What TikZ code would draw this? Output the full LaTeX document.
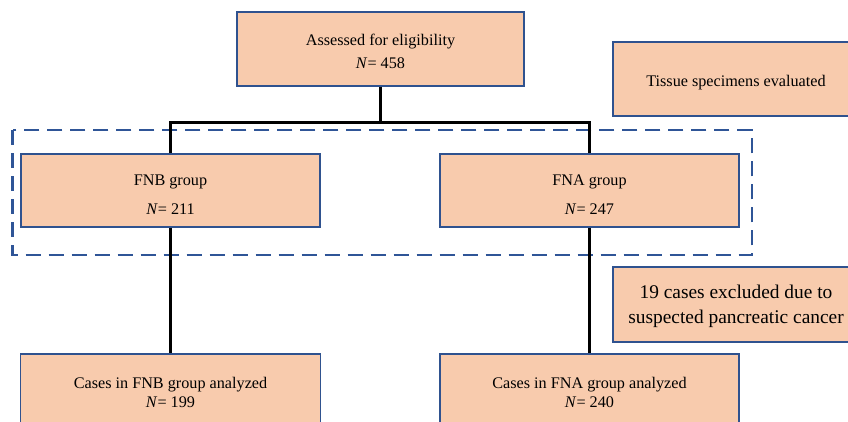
\documentclass[tikz,border=0pt]{standalone}
\usepackage{fontspec}
\setmainfont{Liberation Serif}
\definecolor{peach}{HTML}{F8CBAD}
\definecolor{boxblue}{HTML}{2F528F}
\definecolor{dashblue}{HTML}{2F5597}
\newcommand{\lowr}[2]{\raisebox{-#1}[\height][\depth]{#2}}
\begin{document}
\begin{tikzpicture}[x=1pt,y=-1pt,
  box/.style={draw=boxblue, fill=peach, line width=1.3pt, inner sep=0pt, align=center,
    font=\fontsize{16.2}{23}\selectfont},
  conn/.style={line width=3pt, black},
  dashbox/.style={draw=dashblue, line width=2.7pt, dash pattern=on 15pt off 8pt}]
\useasboundingbox (0,0) rectangle (848,421);
\clip (0,0) rectangle (848,421);
\fill[white] (0,0) rectangle (848,421);
% dashed group frame
\draw[dashbox] (12.7,130) rectangle (752,255);
% boxes
\node[box, minimum width=287pt, minimum height=74pt] (top) at (380.5,49) {\lowr{2pt}{Assessed for eligibility}\\\lowr{2pt}{\textit{N}= 458}};
\node[box, minimum width=246pt, minimum height=74pt] (tissue) at (736,79) {\lowr{3.5pt}{Tissue specimens evaluated}};
\node[box, minimum width=299pt, minimum height=73pt, font=\fontsize{16.2}{29}\selectfont] (fnb) at (170.5,190.5) {\lowr{4pt}{FNB group}\\\lowr{4pt}{\textit{N}= 211}};
\node[box, minimum width=299pt, minimum height=73pt, font=\fontsize{16.2}{29}\selectfont] (fna) at (589.5,190.5) {\lowr{4pt}{FNA group}\\\lowr{4pt}{\textit{N}= 247}};
\node[box, minimum width=246pt, minimum height=75pt, font=\fontsize{19.4}{25}\selectfont] (excl) at (736,304.5) {\lowr{2pt}{19 cases excluded due to}\\\lowr{2pt}{suspected pancreatic cancer}};
\node[box, minimum width=300pt, minimum height=76pt, font=\fontsize{16.2}{19}\selectfont] (fnbres) at (170.5,392) {Cases in FNB group analyzed\\\textit{N}= 199};
\node[box, minimum width=299pt, minimum height=76pt, font=\fontsize{16.2}{19}\selectfont] (fnares) at (589.5,392) {Cases in FNA group analyzed\\\textit{N}= 240};
% connectors
\coordinate (split) at (380.5,122);
\draw[conn] (top.south) -- (split);
\draw[conn] (fnb.north) |- (split) -| (fna.north);
\draw[conn] (fnb.south) -- (fnbres.north);
\draw[conn] (fna.south) -- (fnares.north);
\end{tikzpicture}
\end{document}
